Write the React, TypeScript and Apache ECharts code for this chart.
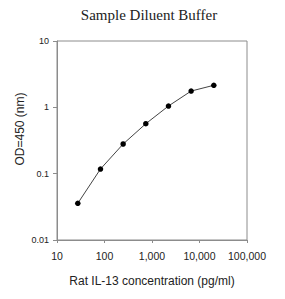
import React, { useEffect, useRef } from "react";
import * as echarts from "echarts";

const concentrations = [27.4, 82.3, 246.9, 740.7, 2222, 6667, 20000];
const odValues = [0.0357, 0.1175, 0.28, 0.566, 1.047, 1.76, 2.15];
const titleText = "Sample Diluent Buffer";
const xName = "Rat IL-13 concentration (pg/ml)";
const yName = "OD=450 (nm)";

export default function App() {
  const ref = useRef<HTMLDivElement>(null);
  useEffect(() => {
    if (!ref.current) return;
    const chart = echarts.init(ref.current, undefined, { renderer: "svg" });
    const fmtY = (v: number) => String(Number(v.toPrecision(3)));
    const fmtX = (v: number) => Math.round(v).toLocaleString("en-US");
    chart.setOption({
      animation: false,
      backgroundColor: "#ffffff",
      grid: {
        left: 57,
        top: 41,
        width: 190,
        height: 199,
        show: true,
        borderColor: "#8c8c8c",
        borderWidth: 1,
        containLabel: false,
      },
      xAxis: {
        type: "log",
        logBase: 10,
        min: 10,
        max: 100000,
        axisLine: { show: true, lineStyle: { color: "#8c8c8c" } },
        axisTick: { show: true, length: 3, lineStyle: { color: "#8c8c8c" } },
        splitLine: { show: false },
        minorTick: { show: false },
        axisLabel: {
          formatter: fmtX,
          fontFamily: "Liberation Sans, Arial, sans-serif",
          fontSize: 10.5,
          color: "#222",
          margin: 10,
          showMinLabel: true,
          showMaxLabel: true,
        },
      },
      yAxis: {
        type: "log",
        logBase: 10,
        min: 0.01,
        max: 10,
        axisLine: { show: true, lineStyle: { color: "#8c8c8c" } },
        axisTick: { show: true, length: 4, lineStyle: { color: "#8c8c8c" } },
        splitLine: { show: false },
        axisLabel: {
          formatter: fmtY,
          fontFamily: "Liberation Sans, Arial, sans-serif",
          fontSize: 9,
          color: "#222",
          margin: 8,
          showMinLabel: true,
          showMaxLabel: true,
        },
      },
      graphic: [
        {
          type: "text",
          x: 149,
          y: 15,
          style: {
            text: titleText,
            font: "15px 'Liberation Serif', 'Times New Roman', serif",
            fill: "#222",
            textAlign: "center",
            textVerticalAlign: "middle",
          },
        },
        {
          type: "text",
          x: 152,
          y: 281,
          style: {
            text: xName,
            font: "12px 'Liberation Sans', Arial, sans-serif",
            fill: "#222",
            textAlign: "center",
            textVerticalAlign: "middle",
          },
        },
        {
          type: "text",
          x: 20,
          y: 129,
          rotation: Math.PI / 2,
          style: {
            text: yName,
            font: "12px 'Liberation Sans', Arial, sans-serif",
            fill: "#222",
            textAlign: "center",
            textVerticalAlign: "middle",
          },
        },
      ],
      series: [
        {
          type: "line",
          data: concentrations.map((c, i) => [c, odValues[i]]),
          symbol: "circle",
          symbolSize: 5.5,
          itemStyle: { color: "#000" },
          lineStyle: { color: "#444", width: 1 },
        },
      ],
    });
    return () => chart.dispose();
  }, []);
  return (
    <div
      ref={ref}
      style={{ position: "fixed", left: 0, top: 0, width: 285, height: 299 }}
    />
  );
}
